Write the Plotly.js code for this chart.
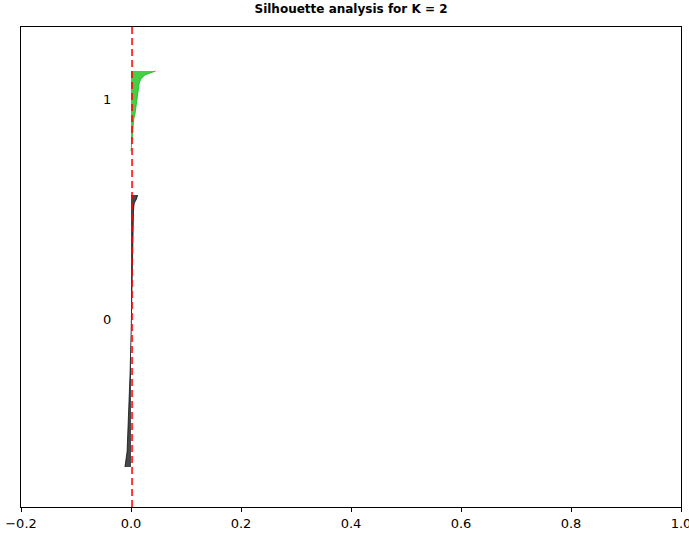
<!DOCTYPE html>
<html>
<head>
<meta charset="utf-8">
<script src="https://cdn.plot.ly/plotly-3.0.1.min.js"></script>
<style>html,body{margin:0;padding:0;background:#fff;}#chart{width:689px;height:533px;}</style>
</head>
<body>
<div id="chart"></div>
<script>
// Cluster labels
const clusterLabels = ["0", "1"];
// Sorted silhouette values per cluster
const cluster0Values = [
  -0.011, -0.010, -0.008, -0.0075, -0.007,
  -0.0068, -0.0066, -0.0064, -0.0062, -0.006, -0.0058, -0.0056, -0.0054, -0.0052, -0.005,
  -0.0046, -0.0042, -0.0038, -0.0034, -0.003, -0.0027, -0.0024, -0.0021, -0.0018, -0.0015, -0.0012,
  -0.001, -0.0008, -0.0006, -0.0004, -0.0002, 0.0, 0.0001, 0.0002, 0.0003, 0.0004, 0.0005, 0.0006, 0.0007, 0.0008, 0.0009,
  0.001, 0.0011, 0.0012, 0.0013, 0.0014, 0.0015, 0.0016, 0.0017, 0.0018, 0.0019, 0.002, 0.0021, 0.0022, 0.0023, 0.0024, 0.0025, 0.0026, 0.0028, 0.003, 0.0032, 0.0034, 0.0036,
  0.004, 0.0045, 0.005, 0.006, 0.010, 0.012
];
const cluster1Values = [
  0.000, 0.0005, 0.001, 0.0015, 0.002, 0.003, 0.0035, 0.004, 0.005, 0.007,
  0.008, 0.009, 0.010, 0.011, 0.012, 0.013, 0.014, 0.015, 0.018, 0.025, 0.045
];
const silhouetteAvg = 0.002;
const xTickVals = [-0.2, 0.0, 0.2, 0.4, 0.6, 0.8, 1.0];
const xTickText = ["\u22120.2", "0.0", "0.2", "0.4", "0.6", "0.8", "1.0"];
const titleText = "Silhouette analysis for K = 2";

const clusters = [cluster0Values, cluster1Values];
const colors = ["rgba(0,0,0,0.72)", "rgba(0,187,0,0.72)"];
const traces = [];
const annotations = [];
let yLower = 10;
clusters.forEach((vals, i) => {
  const ys = vals.map((_, j) => yLower + j);
  traces.push({
    type: "scatter", mode: "lines", x: vals, y: ys, fill: "tozerox",
    fillcolor: colors[i], line: {color: colors[i], width: 1},
    hoverinfo: "skip", showlegend: false
  });
  annotations.push({
    x: -0.055, y: yLower + 0.5 * vals.length, xref: "x", yref: "y",
    text: clusterLabels[i], showarrow: false, xanchor: "left", yanchor: "bottom",
    font: {family: "DejaVu Sans", size: 13, color: "#000"}
  });
  yLower = yLower + vals.length + 10;
});
const yMax = yLower;

const layout = {
  width: 689, height: 533,
  margin: {l: 21, r: 8, t: 27, b: 26},
  paper_bgcolor: "#fff", plot_bgcolor: "#fff",
  font: {family: "DejaVu Sans", size: 13, color: "#000"},
  title: {text: "<b>" + titleText + "</b>", x: 0.5, xref: "paper", y: 1, yref: "container", yanchor: "top", pad: {t: 5},
    font: {family: "DejaVu Sans", size: 12, color: "#000"}},
  xaxis: {
    range: [-0.2, 1.0], tickvals: xTickVals, ticktext: xTickText,
    ticks: "outside", ticklen: 4, tickcolor: "#000", showgrid: false, zeroline: false,
    showline: true, linecolor: "#000", linewidth: 1, mirror: true,
    ticklabeloverflow: "allow",
    tickfont: {family: "DejaVu Sans", size: 13, color: "#000"}
  },
  yaxis: {
    range: [0, yMax], showticklabels: false, ticks: "", showgrid: false, zeroline: false,
    showline: true, linecolor: "#000", linewidth: 1, mirror: true
  },
  shapes: [{
    type: "line", xref: "x", yref: "paper", x0: silhouetteAvg, x1: silhouetteAvg, y0: 0, y1: 1,
    line: {color: "rgba(255,0,0,0.8)", width: 2, dash: "7px,4px"}
  }],
  annotations: annotations
};
Plotly.newPlot("chart", traces, layout, {displayModeBar: false, staticPlot: true});
</script>
</body>
</html>
